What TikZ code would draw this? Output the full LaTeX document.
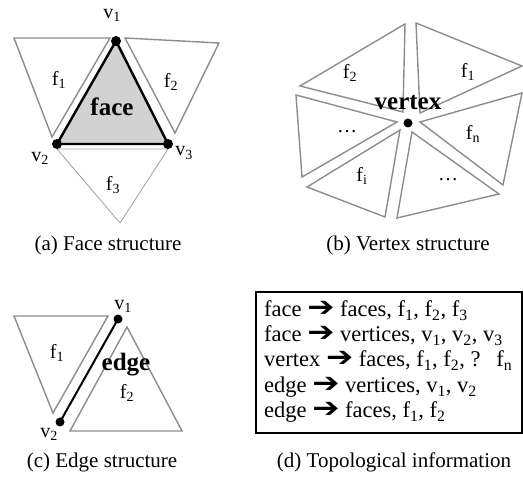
\documentclass[tikz,border=0pt]{standalone}
\usepackage{fontspec}
\setmainfont{Liberation Serif}
\newfontfamily\arrowfont{DejaVu Sans}
\usetikzlibrary{calc}

\newcommand{\ix}[1]{\textsubscript{#1}}
\newcommand{\toarrow}{{\arrowfont\fontsize{25}{25}\selectfont\scalebox{1.3}[1.1]{➔}}}

\begin{document}
\begin{tikzpicture}[x=1pt, y=-1pt,
    tri/.style={draw=gray!90, line width=1.4pt, line join=miter},
    lbl/.style={font=\fontsize{20}{24}\selectfont, inner sep=0pt},
    bold/.style={font=\fontsize{25}{28}\selectfont\bfseries, inner sep=0pt},
    captext/.style={font=\fontsize{21}{25}\selectfont, inner sep=0pt},
    info/.style={font=\fontsize{22.5}{25}\selectfont, inner sep=0pt, anchor=base west}]
    \useasboundingbox (0,0) rectangle (523,481);
    % (a) face
    \coordinate (A1) at (116,41);
    \coordinate (A2) at (57,144);
    \coordinate (A3) at (168,144);
    \draw[tri] (14,38) -- (110,38) -- (52,137) -- cycle;
    \draw[tri] (125,38) -- (219,43) -- (175,133) -- cycle;
    \draw[tri, draw=gray!70, line width=0.9pt] (57,149) -- (168,149) -- (120,223) -- cycle;
    \draw[line width=2.4pt, fill=gray!35, line join=round] (A1) -- (A2) -- (A3) -- cycle;
    \foreach \p in {A1,A2,A3} {\fill (\p) circle (5);}
    \node[lbl] (av1) at (112,15) {v\ix{1}};
    \node[lbl] (av2) at (40,158) {v\ix{2}};
    \node[lbl] (av3) at (184,153) {v\ix{3}};
    \node[lbl] (af1) at (59,80) {f\ix{1}};
    \node[lbl] (af2) at (171,82) {f\ix{2}};
    \node[lbl] (af3) at (113,185) {f\ix{3}};
    \node[bold] (aface) at (112,107) {face};
    \node[captext] (capa) at (108,245) {(a) Face structure};
    % (b) vertex
    \coordinate (V) at (408,123);
    \draw[tri] (416,23) -- (522,66) -- (420,113) -- cycle;
    \draw[tri] (405,24) -- (300,86) -- (403,112) -- cycle;
    \draw[tri] (296,95) -- (397,122) -- (302,177) -- cycle;
    \draw[tri] (307,187) -- (400,130) -- (385,217) -- cycle;
    \draw[tri] (412,132) -- (499,194) -- (397,218) -- cycle;
    \draw[tri] (420,122) -- (522,93) -- (503,185) -- cycle;
    \fill (V) circle (4.5);
    \node[lbl] (bf1) at (468,72) {f\ix{1}};
    \node[lbl] (bf2) at (350,73) {f\ix{2}};
    \node[lbl] (bfn) at (473,134) {f\ix{n}};
    \node[lbl] (bfi) at (362,176) {f\ix{i}};
    \node[lbl] (bdl) at (347,132) {\dots};
    \node[lbl] (bdr) at (448,180) {\dots};
    \node[bold] (bvertex) at (408,103) {vertex};
    \node[captext] (capb) at (408,245) {(b) Vertex structure};
    % (c) edge
    \coordinate (E1) at (118,319);
    \coordinate (E2) at (60,422);
    \draw[tri] (14,316) -- (108,316) -- (53,413) -- cycle;
    \draw[tri] (127,327) -- (182,431) -- (70,431) -- cycle;
    \draw[line width=2pt] (E1) -- (E2);
    \foreach \p in {E1,E2} {\fill (\p) circle (4.5);}
    \node[lbl] (cv1) at (123,306) {v\ix{1}};
    \node[lbl] (cv2) at (49,434) {v\ix{2}};
    \node[lbl] (cf1) at (57,353) {f\ix{1}};
    \node[lbl] (cf2) at (127,393) {f\ix{2}};
    \node[bold] (cedge) at (126,365) {edge};
    \node[captext] (capc) at (102,462) {(c) Edge structure};
    % (d) topology
    \node[draw, line width=2pt, anchor=north west, inner sep=0pt,
          minimum width=266pt, minimum height=141pt] (infobox) at (255,291) {};
    \node[info] (line1) at (264,317) {face \toarrow{} faces, f\ix{1}, f\ix{2}, f\ix{3}};
    \node[info] (line2) at (264,342) {face \toarrow{} vertices, v\ix{1}, v\ix{2}, v\ix{3}};
    \node[info] (line3) at (264,367) {vertex \toarrow{} faces, f\ix{1}, f\ix{2}, ?\hspace{0.7em}f\ix{n}};
    \node[info] (line4) at (264,393) {edge \toarrow{} vertices, v\ix{1}, v\ix{2}};
    \node[info] (line5) at (264,418) {edge \toarrow{} faces, f\ix{1}, f\ix{2}};
    \node[captext] (capd) at (394,462) {(d) Topological information};
\end{tikzpicture}
\end{document}
